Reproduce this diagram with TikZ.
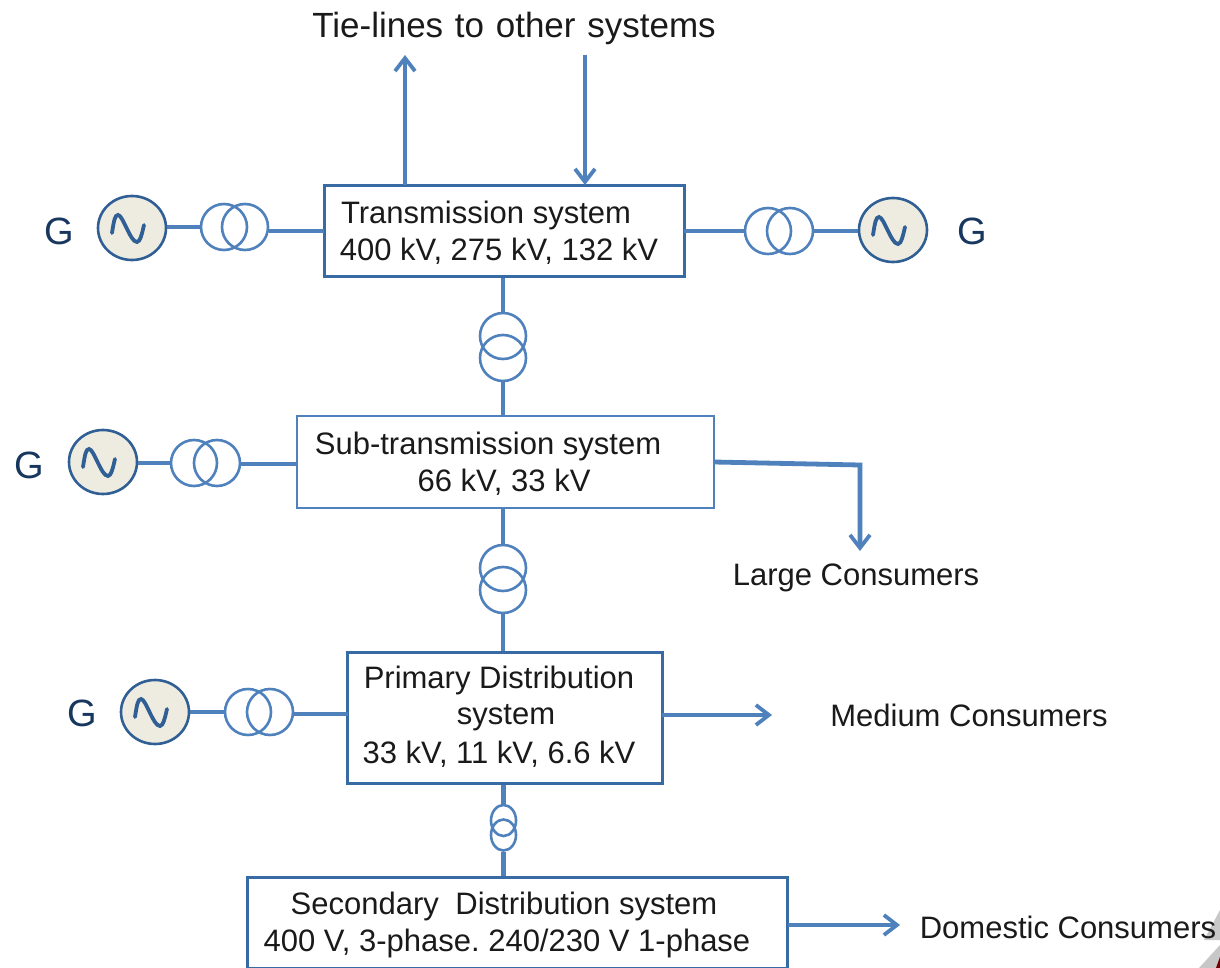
\documentclass[tikz,border=0pt]{standalone}
\usepackage{fontspec}
\setmainfont{Liberation Sans}
\frenchspacing
\usetikzlibrary{arrows.meta,shapes.geometric}
\definecolor{busblue}{HTML}{4F81BD}
\definecolor{boxblue}{HTML}{386AA3}
\definecolor{genline}{HTML}{2F5F94}
\definecolor{genfill}{HTML}{EEECE1}
\definecolor{gtext}{HTML}{17375E}
\definecolor{bodytext}{HTML}{1A1A1A}
\tikzset{
  bus/.style={draw=busblue,line width=4.8pt},
  busarrow/.style={bus,-{Straight Barb[length=13pt,width=20pt,line width=3.8pt]}},
  mainbox/.style={draw=boxblue,line width=3pt,fill=white,inner sep=0pt},
  thinbox/.style={draw=busblue,line width=1.6pt,fill=white,inner sep=0pt},
  coil/.style={circle,draw=busblue,line width=2.6pt,minimum size=46pt,inner sep=0pt},
  smallcoil/.style={ellipse,draw=busblue,line width=2.6pt,minimum width=25pt,minimum height=31pt,inner sep=0pt},
  gen/.style={ellipse,draw=genline,line width=2.6pt,fill=genfill,minimum width=68pt,minimum height=64pt,inner sep=0pt},
  gname/.style={text=gtext,font=\fontsize{38}{42}\selectfont,inner sep=0pt},
  label/.style={text=bodytext,font=\fontsize{31}{35}\selectfont,inner sep=0pt},
  sinewave/.pic={\draw[draw=genline,line width=3.8pt,line cap=round]
    (-20,5) .. controls (-18,-8) and (-17,-13) .. (-14,-13)
    .. controls (-9,-13) and (-2,14) .. (5,14)
    .. controls (8,14) and (10,6) .. (12,-3);}
}
\begin{document}
\begin{tikzpicture}[x=1pt,y=-1pt]
\useasboundingbox (0,0) rectangle (1220,968);
\fill[white] (0,0) rectangle (1220,968);
% corner ornament
\fill[black!22] (1220,910) -- (1204,940) -- (1220,940) -- cycle;
\fill[black!22] (1220,945) -- (1199,968) -- (1220,968) -- cycle;
\fill[red!45!black] (1220,957) -- (1216,968) -- (1220,968) -- cycle;

% boxes
\node[mainbox,minimum width=360pt,minimum height=91pt] (tbox) at (504,231) {};
\node[thinbox,minimum width=417pt,minimum height=92pt] (sbox) at (505.5,462) {};
\node[mainbox,minimum width=315pt,minimum height=131pt] (pbox) at (504.5,717.5) {};
\node[mainbox,minimum width=540pt,minimum height=91pt] (dbox) at (517,922.5) {};

% generators
\node[gen] (g1) at (132,228) {}; \pic at (g1.center) {sinewave};
\node[gen] (g2) at (893,230) {}; \pic at (g2.center) {sinewave};
\node[gen] (g3) at (103,462) {}; \pic at (g3.center) {sinewave};
\node[gen] (g4) at (155,712) {}; \pic at (g4.center) {sinewave};

% transformers
\node[coil] (t1a) at (224,227) {};
\node[coil] (t1b) at (245,227) {};
\node[coil] (t2a) at (768,231) {};
\node[coil] (t2b) at (790,231) {};
\node[coil] (t3a) at (194,463) {};
\node[coil] (t3b) at (217,463) {};
\node[coil] (t4a) at (248,712) {};
\node[coil] (t4b) at (270,712) {};
\node[coil] (v1a) at (503,336) {};
\node[coil] (v1b) at (503,358) {};
\node[coil] (v2a) at (503,568) {};
\node[coil] (v2b) at (503,590) {};
\node[smallcoil] (v3a) at (503.5,820.5) {};
\node[smallcoil] (v3b) at (503.5,835) {};

% free ends
\coordinate (tl) at (324,231);
\coordinate (tr) at (684,231);
\coordinate (sl) at (297,464);
\coordinate (pl) at (348,714);
\coordinate (sr) at (714,462);
\coordinate (bend) at (860,465);
\coordinate (lc) at (860,551);
\coordinate (me) at (772,715);
\coordinate (pr) at (662,715);
\coordinate (dr) at (788,925);
\coordinate (de) at (900,925);
\coordinate (tieup) at (405,55);
\coordinate (tiedn) at (585,55);
\coordinate (tieupb) at (405,185);
\coordinate (tiednb) at (585,185);

% connectors
\draw[bus] (g1.east |- t1a) -- (t1a.west);
\draw[bus] (t1b.east |- tl) -- (tl);
\draw[bus] (tr) -- (t2a.west);
\draw[bus] (t2b.east) -- (g2.west |- t2b);
\draw[bus] (g3.east |- t3a) -- (t3a.west);
\draw[bus] (t3b.east |- sl) -- (sl);
\draw[bus] (g4.east) -- (t4a.west);
\draw[bus] (t4b.east |- pl) -- (pl);
\draw[bus] (tbox.south -| v1a) -- (v1a.north);
\draw[bus] (v1b.south) -- (sbox.north -| v1b);
\draw[bus] (sbox.south -| v2a) -- (v2a.north);
\draw[bus] (v2b.south) -- (pbox.north -| v2b);
\draw[bus] (pbox.south -| v3a) -- (v3a.north);
\draw[bus] (v3b.south) -- (dbox.north -| v3b);
\draw[busarrow] (tieupb) -- (tieup);
\draw[busarrow] (tiedn) -- (tiednb);
\draw[busarrow] (sr) -- (bend) -- (lc);
\draw[busarrow] (pr) -- (me);
\draw[busarrow] (dr) -- (de);

% labels
\node[gname] (n1) at (59,231) {G};
\node[gname] (n2) at (972,231) {G};
\node[gname] (n3) at (29,465) {G};
\node[gname] (n4) at (82,713) {G};
\node[label,font=\fontsize{35}{39}\selectfont] (tie) at (514,28) {Tie-lines\hspace{2pt} to\hspace{2pt} other\hspace{2pt} systems};
\node[label] (tb1) at (486,215) {Transmission system};
\node[label] (tb2) at (499,251) {400 kV, 275 kV, 132 kV};
\node[label] (sb1) at (488,446) {Sub-transmission system};
\node[label] (sb2) at (504,482) {66 kV, 33 kV};
\node[label] (pb1) at (499,680) {Primary Distribution};
\node[label] (pb2) at (506,718) {system};
\node[label] (pb3) at (499,754) {33 kV, 11 kV, 6.6 kV};
\node[label] (db1) at (504,906) {Secondary\hspace{8pt} Distribution system};
\node[label] (db2) at (507,943) {400 V, 3-phase. 240/230 V 1-phase};
\node[label] (lcons) at (856,578) {Large Consumers};
\node[label] (mcons) at (969,715) {Medium Consumers};
\node[label] (dcons) at (1068,927) {Domestic Consumers};
\end{tikzpicture}
\end{document}
